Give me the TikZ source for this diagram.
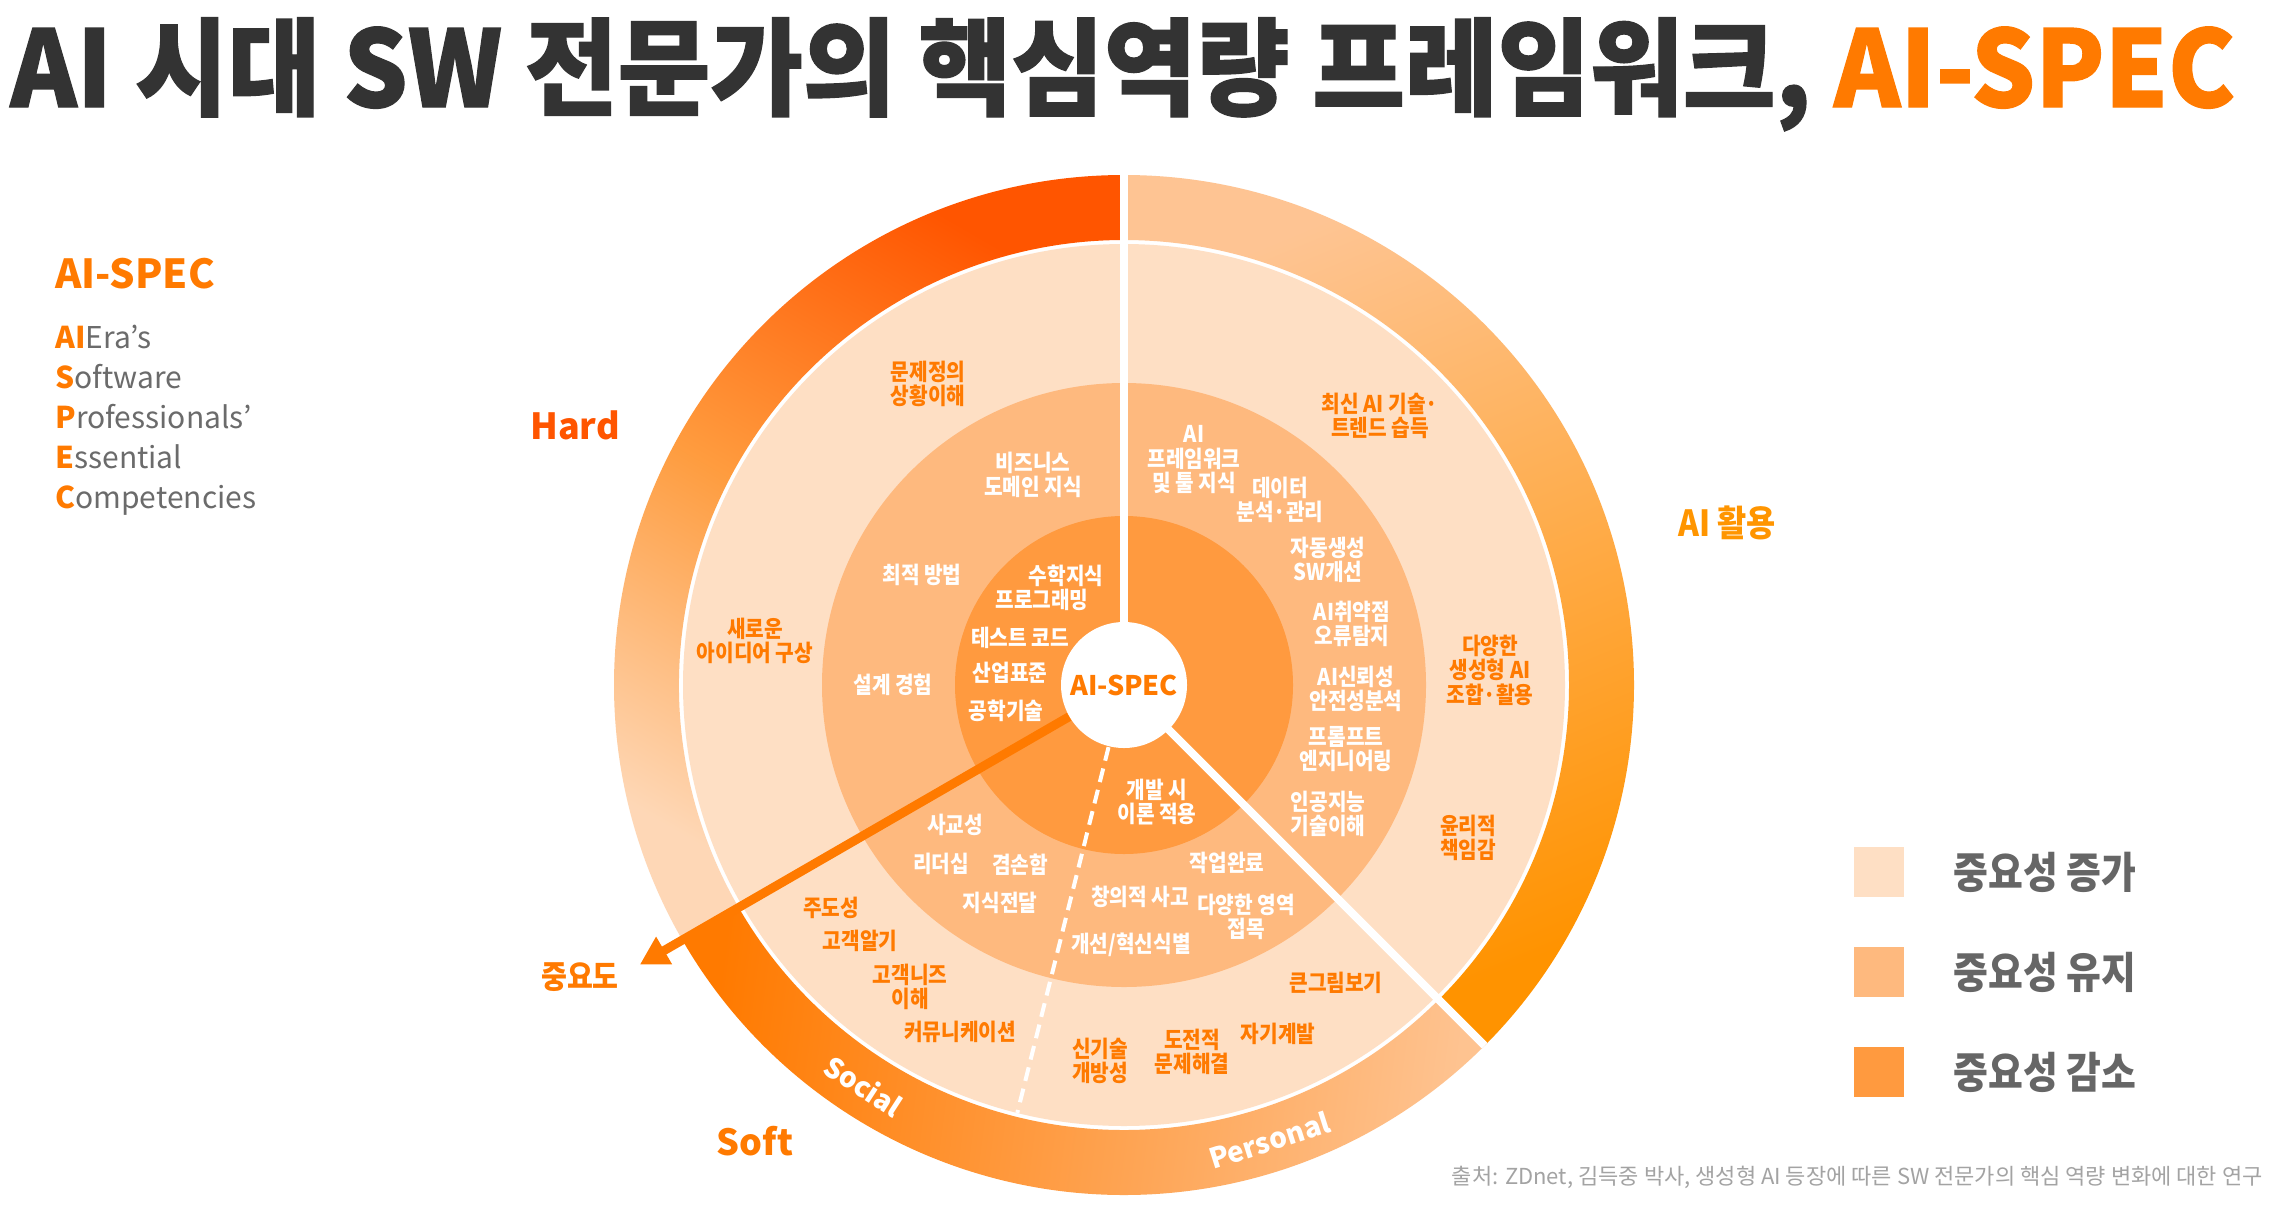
\documentclass[tikz,border=0pt]{standalone}
\usepackage{fontspec}
\setmainfont{Noto Sans CJK KR}
\newfontfamily\kr{Noto Sans CJK KR}[FakeStretch=0.88]
\newfontfamily\krt{Noto Sans CJK KR}[FakeStretch=0.95,BoldFeatures={FakeBold=1.2}]
\usepackage{tikz}
\usetikzlibrary{positioning,arrows.meta}
\usepackage{xcolor}
\definecolor{deeporange}{HTML}{FF7A00}
\definecolor{hardred}{HTML}{FF5500}
\definecolor{aiamber}{HTML}{FF9500}
\definecolor{incr}{HTML}{FEDFC4}
\definecolor{keep}{HTML}{FEB97E}
\definecolor{decr}{HTML}{FF9A3F}
\definecolor{txtgray}{HTML}{6B6B6B}
\definecolor{leggray}{HTML}{666666}
\definecolor{srcgray}{HTML}{A3A3A3}
\definecolor{titlegray}{HTML}{333333}

\begin{document}
\begin{tikzpicture}[x=0.5pt,y=-0.5pt,>={Triangle[length=14pt,width=15pt]},
  lbl/.style={font={\kr\bfseries\fontsize{11.5}{12.25}\selectfont},align=center,inner sep=0pt},
  wt/.style={lbl,text=white},
  og/.style={lbl,text=deeporange},
  sep/.style={white,line width=4pt},
  band/.style={font={\bfseries\fontsize{14}{14}\selectfont},text=white,inner sep=0pt},
  key/.style={minimum size=25pt,inner sep=0pt},
  leg/.style={font={\kr\bfseries\fontsize{21.5}{21.5}\selectfont},text=leggray,inner sep=0pt},
  acr/.style={anchor=base west,inner sep=0pt,font={\fontsize{15}{15}\selectfont},text=txtgray}]
\useasboundingbox (0,0) rectangle (2274,1205);
\fill[white] (0,0) rectangle (2274,1205);

\node[anchor=base west,inner sep=0pt,font={\krt\bfseries\fontsize{53}{53}\selectfont}] (title) at (10,107)
  {\textcolor{titlegray}{AI 시대 SW 전문가의 핵심역량 프레임워크,} \textcolor{deeporange}{AI-SPEC}};

\begin{scope}[shift={(1124,685)},y=0.5pt]
\shade[top color=hardred,bottom color=incr!80!keep,middle color=orange!50!keep,shading angle=-30]
  (90:510) arc[start angle=90,end angle=210,radius=510] -- (210:445) arc[start angle=210,end angle=90,radius=445] -- cycle;
\shade[top color=keep!70!incr,bottom color=aiamber!90!orange,shading angle=22.5]
  (90:510) arc[start angle=90,end angle=-45,radius=510] -- (-45:445) arc[start angle=-45,end angle=90,radius=445] -- cycle;
\shade[left color=deeporange,middle color=deeporange!85!keep,right color=keep!75!incr,shading angle=82.5]
  (210:510) arc[start angle=210,end angle=315,radius=510] -- (315:445) arc[start angle=315,end angle=210,radius=445] -- cycle;
\fill[incr] (0,0) circle[radius=441];
\fill[keep] (0,0) circle[radius=302];
\fill[decr] (0,0) circle[radius=169];
\draw[sep] (0,0) -- (90:510);
\draw[sep] (0,0) -- (-45:510);
\draw[white,line width=2pt,dash pattern=on 7pt off 4pt] (256:64) -- (256:441);
\node[circle,fill=white,minimum size=63pt,inner sep=0pt,text=deeporange,font={\bfseries\fontsize{13.5}{13.5}\selectfont}] (spec) at (0,0) {AI-SPEC};
\coordinate (imp) at (210:559);
\draw[->,deeporange,line width=4.5pt] (spec) -- (imp);
\node[band,rotate=-33] (social) at (237:478) {Social};
\node[band,rotate=17.7] (personal) at (-72.3:478) {Personal};
\end{scope}

\node[og] (h1) at (928,384) {문제정의\\상황이해};
\node[og] (h2) at (755,641) {새로운\\아이디어 구상};
\node[wt] (h3) at (1033,475) {비즈니스\\도메인 지식};
\node[wt] (h4) at (922,575) {최적 방법};
\node[wt] (h5) at (893,685) {설계 경험};
\node[wt] (h6) at (1066,576) {수학지식};
\node[wt] (h7) at (1042,600) {프로그래밍};
\node[wt] (h8) at (1020,638) {테스트 코드};
\node[wt] (h9) at (1010,673) {산업표준};
\node[wt] (h10) at (1006,711) {공학기술};

\node[og] (a1) at (1380,416) {최신 AI 기술·\\트렌드 습득};
\node[og] (a2) at (1490,670) {다양한\\생성형 AI\\조합·활용};
\node[og] (a3) at (1468,838) {윤리적\\책임감};
\node[wt] (a4) at (1194,460) {AI\\프레임워크\\및 툴 지식};
\node[wt] (a5) at (1280,500) {데이터\\분석·관리};
\node[wt] (a6) at (1328,560) {자동생성\\SW개선};
\node[wt] (a7) at (1352,624) {AI취약점\\오류탐지};
\node[wt] (a8) at (1356,689) {AI신뢰성\\안전성분석};
\node[wt] (a9) at (1346,749) {프롬프트\\엔지니어링};
\node[wt] (a10) at (1328,814) {인공지능\\기술이해};

\node[wt] (p1) at (1157,802) {개발 시\\이론 적용};
\node[wt] (p2) at (1227,863) {작업완료};
\node[wt] (p3) at (1140,897) {창의적 사고};
\node[wt] (p4) at (1246,917) {다양한 영역\\접목};
\node[wt] (p5) at (1131,945) {개선/혁신식별};
\node[og] (p6) at (1336,983) {큰그림보기};
\node[og] (p7) at (1278,1034) {자기계발};
\node[og] (p8) at (1192,1052) {도전적\\문제해결};
\node[og] (p9) at (1100,1061) {신기술\\개방성};

\node[wt] (s1) at (955,825) {사교성};
\node[wt] (s2) at (941,864) {리더십};
\node[wt] (s3) at (1020,865) {겸손함};
\node[wt] (s4) at (1000,903) {지식전달};
\node[og] (s5) at (831,908) {주도성};
\node[og] (s6) at (860,941) {고객알기};
\node[og] (s7) at (910,987) {고객니즈\\이해};
\node[og] (s8) at (960,1032) {커뮤니케이션};

\node[font={\bfseries\fontsize{18}{18}\selectfont},text=hardred,inner sep=0pt] (hard) at (575,425) {Hard};
\node[font={\kr\bfseries\fontsize{18}{18}\selectfont},text=aiamber,inner sep=0pt] (aiuse) at (1727,523) {AI 활용};
\node[font={\bfseries\fontsize{18}{18}\selectfont},text=deeporange,inner sep=0pt] (soft) at (755,1141) {Soft};
\node[font={\kr\bfseries\fontsize{16}{16}\selectfont},text=deeporange,inner sep=0pt] (imptxt) at (580,977) {중요도};

\node[anchor=base west,inner sep=0pt,text=deeporange,font={\bfseries\fontsize{20}{20}\selectfont}] (head) at (55,288) {AI-SPEC};
\node[acr] (w1) at (55,348) {\textcolor{deeporange}{\bfseries AI}Era’s};
\node[acr] (w2) at (55,388) {\textcolor{deeporange}{\bfseries S}oftware};
\node[acr] (w3) at (55,428) {\textcolor{deeporange}{\bfseries P}rofessionals’};
\node[acr] (w4) at (55,468) {\textcolor{deeporange}{\bfseries E}ssential};
\node[acr] (w5) at (55,508) {\textcolor{deeporange}{\bfseries C}ompetencies};

\node[key,fill=incr] (k1) at (1879,872) {};
\node[key,fill=keep] (k2) at (1879,972) {};
\node[key,fill=decr] (k3) at (1879,1072) {};
\node[leg,right=24.5pt of k1] (t1) {중요성 증가};
\node[leg,right=24.5pt of k2] (t2) {중요성 유지};
\node[leg,right=24.5pt of k3] (t3) {중요성 감소};

\node[anchor=base east,inner sep=0pt,font={\fontsize{11}{11}\selectfont},text=srcgray] (src) at (2263,1184)
  {출처: ZDnet, 김득중 박사, 생성형 AI 등장에 따른 SW 전문가의 핵심 역량 변화에 대한 연구};
\end{tikzpicture}
\end{document}
